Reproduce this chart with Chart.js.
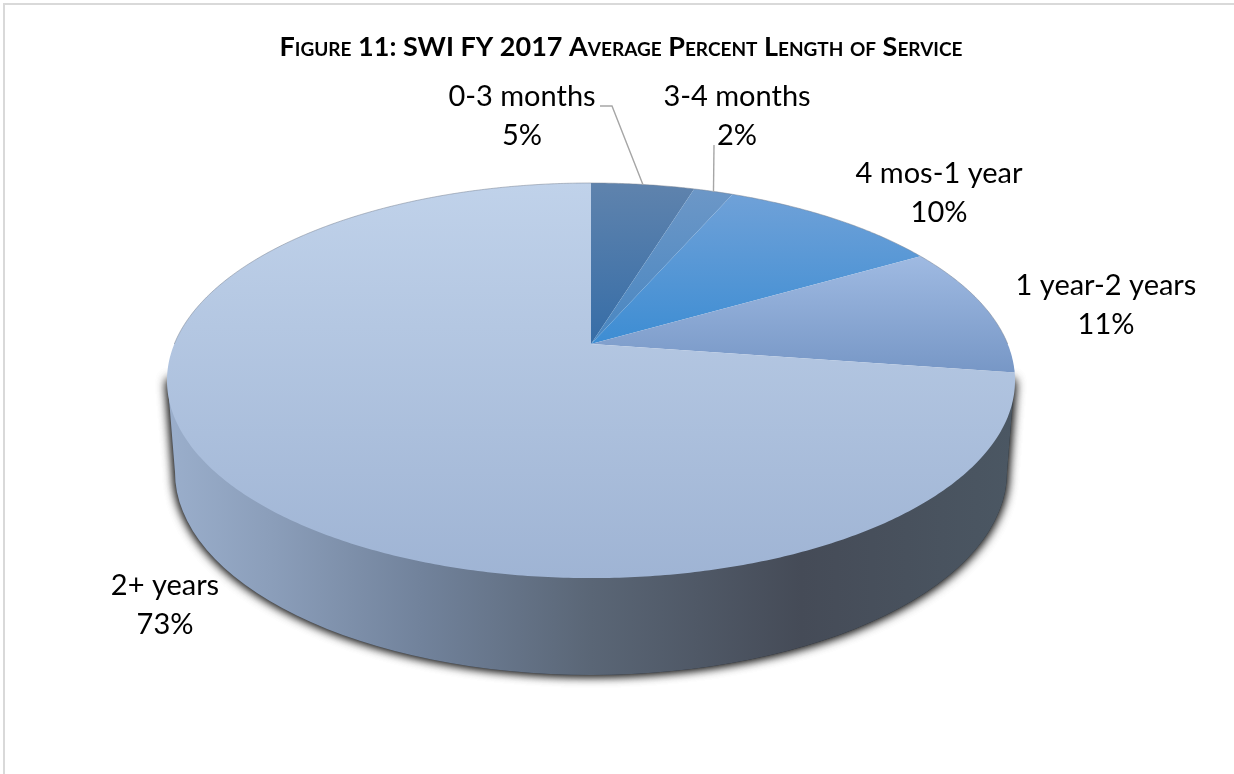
<!DOCTYPE html>
<html>
<head>
<meta charset="utf-8">
<style>html,body{margin:0;padding:0;background:#fff}#w{position:relative;width:1234px;height:774px}</style>
<script src="https://cdn.jsdelivr.net/npm/chart.js@4"></script>
</head>
<body>
<div id="w"><canvas id="c" width="1234" height="774"></canvas></div>
<script>
const categories = ['0-3 months', '3-4 months', '4 mos-1 year', '1 year-2 years', '2+ years'];
const values = [4.7, 1.8, 10.1, 10.7, 72.6];
const percentLabels = ['5%', '2%', '10%', '11%', '73%'];
const titleText = 'Figure 11: SWI FY 2017 Average Percent Length of Service';
const sliceTopColors = ['#5f83ad', '#6c97c7', '#6fa1d8', '#9fbae2', '#c0d2ea'];
const sliceBottomColors = ['#366da7', '#4886c1', '#3d8dd3', '#7797c6', '#9fb4d4'];

// Layout of the tilted pie (perspective projection of the unit disc)
const P = {cx: 591, cy: 344, a: 416.7, b: 190.8, k: -0.185};
const project = (ang) => { // ang: Chart.js radians, 0 = +x, clockwise
  const X = Math.cos(ang), Y = Math.sin(ang), w = 1 + P.k * Y;
  return [P.cx + P.a * X / w, P.cy + P.b * Y / w];
};
const labelLayout = [
  {x: 522, y: 106, leaderFrom: [[600, 106], [612, 106]]},
  {x: 737, y: 106, leaderFrom: [[714, 145]]},
  {x: 939, y: 183},
  {x: 1106, y: 295},
  {x: 165, y: 595}
];
const LINE = 39;

const pie3d = {
  id: 'pie3d',
  beforeDraw(chart) {
    const ctx = chart.ctx;
    ctx.save();
    ctx.strokeStyle = '#d9d9d9';
    ctx.lineWidth = 2;
    ctx.strokeRect(4, 4, 1240, 780);
    ctx.restore();
  },
  beforeDatasetsDraw(chart) {
    const ctx = chart.ctx;
    const arcs = chart.getDatasetMeta(0).data;
    // extruded side: silhouette from the top rim to the bottom rim
    const low = {cx: 591, cy: 472, rx: 416, ry: 203};
    const sidePath = () => {
      ctx.beginPath();
      ctx.moveTo(167.5, 380);
      ctx.lineTo(low.cx - low.rx, low.cy);
      ctx.ellipse(low.cx, low.cy, low.rx, low.ry, 0, Math.PI, 0, true);
      ctx.lineTo(1014.5, 380);
      ctx.closePath();
    };
    ctx.save();
    const g = ctx.createLinearGradient(170, 0, 1012, 0);
    g.addColorStop(0, '#9aaecb');
    g.addColorStop(0.12, '#8b9eba');
    g.addColorStop(0.3, '#71829b');
    g.addColorStop(0.5, '#5a6676');
    g.addColorStop(0.75, '#454b57');
    g.addColorStop(1, '#4b5763');
    ctx.shadowColor = 'rgba(0,0,0,0.9)';
    ctx.shadowBlur = 11;
    sidePath();
    ctx.fillStyle = g;
    ctx.fill();
    sidePath();
    ctx.fill();
    ctx.restore();

    // top face: one wedge per arc, angles taken from the library's layout
    const wedge = (a0, a1) => {
      ctx.beginPath();
      ctx.moveTo(P.cx, P.cy);
      const n = Math.max(2, Math.ceil((a1 - a0) / 0.01));
      for (let i = 0; i <= n; i++) {
        const p = project(a0 + (a1 - a0) * i / n);
        ctx.lineTo(p[0], p[1]);
      }
      ctx.closePath();
    };
    arcs.forEach((arc, i) => {
      const a0 = arc.startAngle, a1 = arc.endAngle;
      let ys = [P.cy];
      for (let j = 0; j <= 40; j++) ys.push(project(a0 + (a1 - a0) * j / 40)[1]);
      const gr = ctx.createLinearGradient(0, Math.min(...ys), 0, Math.max(...ys));
      gr.addColorStop(0, sliceTopColors[i]);
      gr.addColorStop(1, sliceBottomColors[i]);
      wedge(a0, a1);
      ctx.fillStyle = gr;
      ctx.fill();
    });
    // thin rim along the far edge only
    ctx.save();
    ctx.beginPath();
    for (let j = 0; j <= 360; j++) {
      const p = project(Math.PI + j / 360 * Math.PI);
      j ? ctx.lineTo(p[0], p[1]) : ctx.moveTo(p[0], p[1]);
    }
    ctx.strokeStyle = 'rgba(120,130,145,0.5)';
    ctx.lineWidth = 1;
    ctx.stroke();
    ctx.restore();

    // leader lines end at each slice's mid angle on the rim
    ctx.save();
    ctx.strokeStyle = '#a6a6a6';
    ctx.lineWidth = 1.4;
    arcs.forEach((arc, i) => {
      const from = labelLayout[i].leaderFrom;
      if (!from) return;
      const end = project((arc.startAngle + arc.endAngle) / 2);
      ctx.beginPath();
      from.forEach((p, j) => j ? ctx.lineTo(p[0], p[1]) : ctx.moveTo(p[0], p[1]));
      ctx.lineTo(end[0], end[1]);
      ctx.stroke();
    });
    ctx.restore();

    // labels
    ctx.save();
    ctx.font = '29px Lato';
    ctx.fillStyle = '#000';
    ctx.textAlign = 'center';
    ctx.textBaseline = 'alphabetic';
    categories.forEach((c, i) => {
      const l = labelLayout[i];
      ctx.fillText(c, l.x, l.y);
      ctx.fillText(percentLabels[i], l.x, l.y + LINE);
    });
    ctx.restore();
    return false;
  }
};

new Chart(document.getElementById('c'), {
  type: 'pie',
  data: {
    labels: categories,
    datasets: [{data: values, backgroundColor: sliceTopColors, borderWidth: 0}]
  },
  plugins: [pie3d],
  options: {
    responsive: false,
    animation: false,
    layout: {padding: {left: 8}},
    events: [],
    plugins: {
      legend: {display: false},
      tooltip: {enabled: false},
      title: {
        display: true,
        text: titleText,
        color: '#000',
        padding: {top: 31, bottom: 10},
        font: {family: 'Lato', weight: 'small-caps bold', size: 27}
      }
    }
  }
});
</script>
</body>
</html>
